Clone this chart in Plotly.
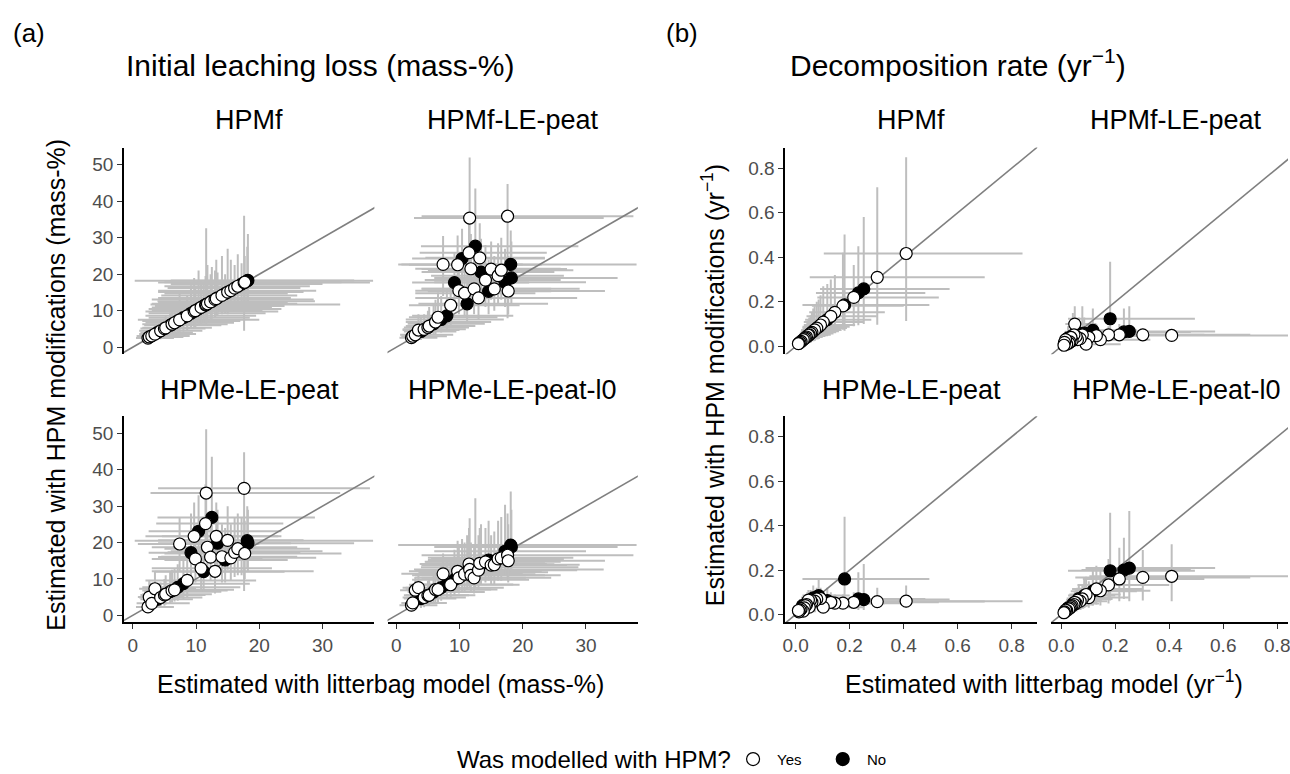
import plotly.graph_objects as go

# ---------------- (a) Initial leaching loss (mass-%) ----------------
# litterbag-model estimates (shared by the four panels)
leach_x = [2.4, 2.6, 3.0, 3.5, 3.9, 4.4, 5.0, 5.2, 5.9, 6.2, 6.6, 7.1, 7.4, 8.0, 8.6, 9.2, 9.7, 9.9, 10.4, 10.8,
           11.2, 11.5, 11.6, 11.8, 12.3, 12.5, 13.0, 13.2, 13.4, 14.1, 14.6, 15.0, 15.5, 16.1, 16.6, 17.2, 17.6, 17.7, 18.1, 18.2]
leach_x_lo = [0.5, 0.8, 0.6, 1.0, 1.2, 1.0, 1.2, 1.5, 1.8, 1.5, 2.0, 1.5, 0.8, 2.5, 2.0, 2.5, 2.0, 3.0, 2.5, 3.0,
              3.5, 3.7, 2.8, 3.0, 4.0, 3.9, 3.0, 4.6, 4.0, 4.5, 5.0, 4.0, 4.0, 5.5, 5.0, 6.0, 4.0, 5.0, 0.3, 6.0]
leach_x_hi = [6.5, 8.0, 9.0, 10.0, 9.5, 11.0, 11.5, 12.5, 14.0, 15.0, 16.0, 17.0, 20.0, 18.5, 19.5, 21.0, 23.0, 20.5, 23.5, 22.0,
              24.0, 23.8, 32.8, 26.0, 24.5, 28.8, 28.6, 23.5, 25.0, 26.0, 24.5, 27.0, 29.0, 26.5, 28.0, 30.0, 37.5, 33.0, 38.0, 35.0]
leach_modelled = ["Yes", "Yes", "Yes", "Yes", "No", "Yes", "Yes", "Yes", "No", "Yes", "Yes", "No", "Yes", "No", "Yes", "No",
                  "Yes", "Yes", "No", "Yes", "No", "Yes", "Yes", "Yes", "Yes", "No", "Yes", "Yes", "No", "Yes", "No", "Yes",
                  "Yes", "Yes", "Yes", "No", "Yes", "Yes", "No", "No"]

# HPMf
leach_f = [2.5, 2.8, 3.1, 3.6, 4.0, 4.5, 5.1, 5.3, 6.0, 6.3, 6.7, 7.2, 7.5, 8.1, 8.6, 9.3, 9.8, 10.0, 10.5, 10.9,
           11.3, 11.6, 11.7, 11.9, 12.4, 12.6, 13.1, 13.3, 13.5, 14.2, 14.7, 15.1, 15.5, 16.2, 16.7, 17.3, 17.7, 17.8, 18.2, 18.3]
leach_f_lo = [1.2, 1.0, 1.5, 1.8, 2.0, 2.2, 2.5, 2.6, 3.0, 3.2, 3.5, 3.8, 4.0, 4.2, 4.5, 5.0, 5.2, 5.5, 6.0, 6.2,
              6.5, 6.8, 6.0, 7.0, 7.5, 7.8, 8.0, 8.5, 8.6, 9.0, 9.2, 9.0, 10.0, 10.0, 10.5, 11.0, 4.5, 11.0, 11.5, 12.0]
leach_f_hi = [4.0, 4.5, 5.2, 6.0, 6.2, 7.0, 7.8, 8.5, 9.5, 10.0, 11.0, 12.0, 15.0, 12.5, 14.0, 17.0, 19.0, 16.0, 21.0, 18.0,
              17.5, 19.5, 32.6, 22.5, 20.0, 22.0, 21.0, 24.0, 20.5, 25.0, 20.0, 27.0, 24.0, 22.5, 25.5, 23.0, 36.0, 25.0, 27.5, 31.0]
# HPMf-LE-peat
leach_le = [2.6, 3.0, 3.4, 4.7, 4.3, 4.9, 5.4, 5.8, 6.4, 6.9, 8.2, 7.6, 22.7, 8.6, 11.5, 17.7, 22.6, 15.5, 24.3, 14.8,
            11.9, 25.9, 35.4, 21.5, 16.0, 27.7, 13.5, 24.5, 20.6, 18.4, 15.3, 21.4, 16.0, 19.6, 21.1, 17.8, 35.9, 15.4, 22.7, 19.0]
leach_le_lo = [1.0, 1.2, 1.5, 2.0, 2.0, 2.5, 2.8, 3.0, 3.5, 3.5, 4.5, 4.0, 14.0, 4.5, 6.0, 10.0, 14.0, 9.0, 15.0, 8.5,
               6.5, 17.0, 22.0, 13.0, 9.0, 19.0, 7.5, 16.0, 13.0, 11.0, 9.0, 13.0, 10.0, 12.0, 13.0, 11.0, 7.9, 9.0, 14.0, 12.0]
leach_le_hi = [5.5, 6.0, 7.0, 9.0, 8.0, 9.0, 10.0, 11.0, 12.0, 13.0, 15.0, 14.0, 30.5, 16.0, 18.0, 26.0, 30.6, 23.0, 32.5, 21.0,
               20.0, 36.0, 52.0, 31.0, 24.0, 43.5, 22.0, 34.0, 29.7, 28.0, 24.0, 29.0, 25.0, 28.5, 30.0, 27.0, 44.7, 25.0, 32.0, 29.0]
# HPMe-LE-peat
leach_e = [2.3, 5.0, 3.3, 7.3, 4.4, 4.9, 5.6, 5.8, 6.5, 6.8, 7.0, 7.7, 19.6, 8.7, 9.6, 17.2, 21.7, 15.5, 23.1, 12.9,
           12.0, 25.2, 33.6, 18.7, 16.0, 26.9, 12.1, 21.7, 19.8, 16.1, 15.2, 20.6, 15.8, 17.3, 18.3, 17.6, 34.9, 17.0, 20.5, 19.8]
leach_e_lo = [0.8, 2.0, 1.2, 3.0, 2.0, 2.2, 2.6, 3.0, 3.4, 3.5, 3.8, 4.0, 12.0, 4.5, 5.0, 10.0, 14.0, 9.0, 15.0, 7.0,
              6.5, 16.0, 20.0, 11.0, 9.5, 18.0, 6.0, 13.0, 12.0, 9.0, 9.0, 12.5, 9.5, 10.5, 11.0, 11.0, 6.7, 10.0, 13.0, 12.0]
leach_e_hi = [5.0, 9.5, 7.0, 12.0, 8.0, 9.0, 10.0, 11.0, 12.0, 12.5, 13.0, 14.0, 27.0, 16.0, 17.0, 28.0, 31.0, 24.0, 33.0, 21.0,
              20.0, 36.0, 51.1, 28.0, 25.0, 43.6, 21.0, 31.0, 29.0, 25.0, 24.0, 30.0, 25.0, 27.0, 28.0, 27.0, 44.8, 26.0, 30.0, 29.0]
# HPMe-LE-peat-l0
leach_l0 = [2.8, 3.4, 6.9, 7.6, 4.6, 4.9, 5.5, 5.5, 6.4, 7.1, 7.1, 7.6, 11.4, 8.5, 8.4, 9.8, 12.1, 10.3, 11.0, 11.3,
            11.8, 14.1, 12.6, 11.0, 10.3, 13.2, 12.4, 14.3, 14.0, 14.7, 15.2, 13.8, 13.9, 15.5, 15.8, 17.6, 16.5, 15.0, 19.3, 18.8]
leach_l0_lo = [1.0, 1.2, 3.5, 4.0, 2.0, 2.2, 2.6, 2.6, 3.2, 3.5, 3.6, 4.0, 6.0, 4.5, 4.5, 5.5, 6.5, 6.0, 6.5, 6.5,
               7.0, 8.0, 7.5, 6.5, 6.0, 7.5, 7.0, 8.5, 8.5, 9.0, 9.5, 8.5, 8.5, 9.5, 9.5, 11.0, 10.0, 9.0, 12.0, 12.0]
leach_l0_hi = [5.5, 6.5, 10.5, 11.5, 8.0, 8.5, 9.5, 10.0, 11.0, 12.0, 12.5, 13.5, 17.0, 15.0, 15.5, 18.0, 20.5, 19.0, 21.0, 20.0,
               22.0, 24.0, 26.7, 20.0, 19.5, 32.2, 22.0, 24.0, 25.0, 24.0, 26.0, 22.0, 23.0, 26.0, 27.0, 30.4, 28.0, 25.0, 34.0, 29.0]

# ---------------- (b) Decomposition rate (yr^-1) ----------------
decay_x = [0.409, 0.302, 0.252, 0.232, 0.215, 0.181, 0.175, 0.145, 0.130, 0.117, 0.102, 0.092, 0.085, 0.078, 0.070,
           0.065, 0.060, 0.055, 0.050, 0.047, 0.043, 0.040, 0.036, 0.032, 0.028, 0.025, 0.020, 0.016, 0.012, 0.010]
decay_x_lo = [0.104, 0.052, 0.090, 0.075, 0.080, 0.025, 0.060, 0.050, 0.040, 0.035, 0.030, 0.030, 0.025, 0.025, 0.020,
              0.020, 0.018, 0.015, 0.015, 0.012, 0.012, 0.010, 0.010, 0.008, 0.008, 0.007, 0.005, 0.004, 0.003, 0.002]
decay_x_hi = [0.840, 0.700, 0.570, 0.480, 0.530, 0.495, 0.400, 0.330, 0.300, 0.280, 0.250, 0.220, 0.200, 0.190, 0.170,
              0.160, 0.150, 0.140, 0.130, 0.120, 0.110, 0.100, 0.090, 0.085, 0.075, 0.070, 0.060, 0.050, 0.040, 0.035]
decay_modelled = ["Yes", "Yes", "No", "No", "Yes", "No", "Yes", "Yes", "Yes", "No", "Yes", "Yes", "No", "Yes", "Yes",
                  "No", "Yes", "Yes", "Yes", "Yes", "No", "Yes", "Yes", "Yes", "Yes", "No", "Yes", "Yes", "Yes", "Yes"]

decay_f = [0.417, 0.310, 0.258, 0.240, 0.220, 0.186, 0.182, 0.153, 0.135, 0.120, 0.109, 0.096, 0.088, 0.082, 0.074,
           0.068, 0.063, 0.058, 0.052, 0.050, 0.046, 0.042, 0.038, 0.035, 0.030, 0.027, 0.022, 0.018, 0.014, 0.012]
decay_f_lo = [0.114, 0.097, 0.100, 0.095, 0.090, 0.070, 0.075, 0.065, 0.055, 0.050, 0.045, 0.040, 0.035, 0.035, 0.030,
              0.028, 0.025, 0.022, 0.020, 0.020, 0.018, 0.015, 0.015, 0.012, 0.010, 0.010, 0.008, 0.006, 0.005, 0.004]
decay_f_hi = [0.849, 0.715, 0.581, 0.450, 0.365, 0.502, 0.420, 0.320, 0.300, 0.280, 0.270, 0.230, 0.210, 0.200, 0.180,
              0.170, 0.150, 0.140, 0.130, 0.120, 0.110, 0.100, 0.090, 0.085, 0.075, 0.070, 0.060, 0.050, 0.040, 0.035]

decay_le = [0.049, 0.052, 0.067, 0.065, 0.052, 0.124, 0.052, 0.030, 0.048, 0.072, 0.040, 0.010, 0.060, 0.052, 0.035,
            0.058, 0.030, 0.045, 0.100, 0.052, 0.050, 0.025, 0.040, 0.020, 0.015, 0.038, 0.010, 0.030, 0.018, 0.005]
decay_le_lo = [0.030, 0.030, 0.040, 0.040, 0.030, 0.040, 0.030, 0.010, 0.020, 0.030, 0.020, 0.000, 0.030, 0.020, 0.010,
               0.020, 0.010, 0.020, 0.040, 0.020, 0.020, 0.010, 0.015, 0.005, 0.005, 0.010, 0.003, 0.010, 0.005, 0.001]
decay_le_hi = [0.070, 0.080, 0.180, 0.170, 0.100, 0.380, 0.090, 0.070, 0.100, 0.170, 0.090, 0.050, 0.130, 0.180, 0.090,
               0.130, 0.080, 0.100, 0.180, 0.120, 0.150, 0.070, 0.100, 0.060, 0.050, 0.090, 0.040, 0.070, 0.050, 0.030]

decay_e = [0.060, 0.058, 0.067, 0.070, 0.055, 0.160, 0.051, 0.051, 0.055, 0.062, 0.033, 0.072, 0.085, 0.070, 0.060,
           0.075, 0.055, 0.065, 0.033, 0.065, 0.055, 0.045, 0.040, 0.030, 0.015, 0.040, 0.025, 0.020, 0.012, 0.018]
decay_e_lo = [0.030, 0.030, 0.020, 0.020, 0.030, 0.060, 0.030, 0.030, 0.030, 0.030, 0.020, 0.030, 0.040, 0.030, 0.030,
              0.030, 0.020, 0.030, 0.015, 0.030, 0.020, 0.020, 0.015, 0.010, 0.005, 0.015, 0.010, 0.008, 0.004, 0.006]
decay_e_hi = [0.130, 0.120, 0.227, 0.190, 0.100, 0.440, 0.090, 0.090, 0.100, 0.120, 0.070, 0.120, 0.160, 0.120, 0.110,
              0.130, 0.100, 0.110, 0.070, 0.110, 0.100, 0.080, 0.080, 0.060, 0.040, 0.080, 0.050, 0.040, 0.030, 0.040]

decay_l0 = [0.172, 0.167, 0.209, 0.200, 0.160, 0.197, 0.133, 0.107, 0.115, 0.105, 0.076, 0.090, 0.085, 0.070, 0.060,
            0.072, 0.065, 0.050, 0.055, 0.045, 0.048, 0.040, 0.035, 0.030, 0.025, 0.030, 0.018, 0.020, 0.012, 0.008]
decay_l0_lo = [0.060, 0.063, 0.060, 0.070, 0.060, 0.063, 0.050, 0.040, 0.045, 0.040, 0.030, 0.035, 0.030, 0.030, 0.025,
               0.030, 0.025, 0.020, 0.020, 0.018, 0.018, 0.015, 0.012, 0.010, 0.008, 0.010, 0.005, 0.006, 0.004, 0.002]
decay_l0_hi = [0.316, 0.290, 0.466, 0.346, 0.300, 0.458, 0.250, 0.200, 0.220, 0.200, 0.150, 0.170, 0.160, 0.130, 0.120,
               0.130, 0.120, 0.100, 0.100, 0.090, 0.090, 0.080, 0.070, 0.060, 0.050, 0.060, 0.040, 0.040, 0.030, 0.020]

# tick labels
leach_x_ticks = [0, 10, 20, 30]
leach_y_ticks = [0, 10, 20, 30, 40, 50]
decay_ticks = [0.0, 0.2, 0.4, 0.6, 0.8]
decay_tick_labels = ["0.0", "0.2", "0.4", "0.6", "0.8"]
legend_levels = ["Yes", "No"]

# ---------------- layout geometry (pixels) ----------------
W, H = 1290, 774
FONT = "Liberation Sans, Arial, Helvetica, sans-serif"
def px(v):
    return v / W
def py(v):
    return 1 - v / H

A_COLS = [(121.5, 372.8), (386.0, 637.3)]
B_COLS = [(785.3, 1038.4), (1051.9, 1290.0)]
ROWS = [(148.3, 356.0), (418.3, 625.5)]
A_XR = [-1.39, 38.2]
A_YR = [-1.91, 54.73]
B_XR = [-0.0387, 0.895]
B_XR_CLIP = [-0.0387, 0.8399]
B_YR = [-0.035, 0.893]
FILL = {"Yes": "white", "No": "black"}

fig = go.Figure()
layout = {}

def add_panel(i, col, row, xr, yr, xs, xlo, xhi, ys, ylo, yhi, flags, left, bottom,
              xt, xtt, yt, ytt):
    sx = "" if i == 1 else str(i)
    xa, ya = "x" + sx, "y" + sx
    # error bars (grey linerange)
    fig.add_trace(go.Scatter(
        x=xs, y=ys, xaxis=xa, yaxis=ya, mode="markers",
        marker=dict(size=2, opacity=0), showlegend=False, hoverinfo="skip",
        error_x=dict(type="data", symmetric=False,
                     array=[h - v for h, v in zip(xhi, xs)],
                     arrayminus=[v - l for l, v in zip(xlo, xs)],
                     width=0, thickness=2, color="#BEBEBE"),
        error_y=dict(type="data", symmetric=False,
                     array=[h - v for h, v in zip(yhi, ys)],
                     arrayminus=[v - l for l, v in zip(ylo, ys)],
                     width=0, thickness=2, color="#BEBEBE"),
    ))
    # 1:1 line
    lo = min(xr[0], yr[0]) - 1
    hi = max(xr[1], yr[1]) + 1
    fig.add_trace(go.Scatter(x=[lo, hi], y=[lo, hi], xaxis=xa, yaxis=ya, mode="lines",
                             line=dict(color="#7F7F7F", width=1.6), showlegend=False,
                             hoverinfo="skip"))
    # points
    for flag in ("No", "Yes"):
        px_ = [v for v, f in zip(xs, flags) if f == flag]
        py_ = [v for v, f in zip(ys, flags) if f == flag]
        fig.add_trace(go.Scatter(
            x=px_, y=py_, xaxis=xa, yaxis=ya, mode="markers", name=flag, showlegend=False,
            marker=dict(size=12, color=FILL[flag], line=dict(color="black", width=1.2)),
        ))
    c0, c1 = col
    r0, r1 = row
    axis_common = dict(showgrid=False, zeroline=False, linecolor="black", linewidth=1.6,
                       ticklen=5, tickwidth=1.4, tickcolor="#333333", ticklabeloverflow="allow",
                       tickfont=dict(size=19, color="#4D4D4D", family=FONT), fixedrange=True)
    layout["xaxis" + sx] = dict(domain=[px(c0), px(c1)], range=xr, anchor=ya,
                                showline=bottom, ticks="outside" if bottom else "",
                                showticklabels=bottom, tickvals=xt, ticktext=xtt,
                                **axis_common)
    layout["yaxis" + sx] = dict(domain=[py(r1), py(r0)], range=yr, anchor=xa,
                                showline=left, ticks="outside" if left else "",
                                showticklabels=left, tickvals=yt, ticktext=ytt,
                                **axis_common)

lxt = [str(v) for v in leach_x_ticks]
lyt = [str(v) for v in leach_y_ticks]
add_panel(1, A_COLS[0], ROWS[0], A_XR, A_YR, leach_x, leach_x_lo, leach_x_hi, leach_f, leach_f_lo, leach_f_hi,
          leach_modelled, True, False, leach_x_ticks, lxt, leach_y_ticks, lyt)
add_panel(2, A_COLS[1], ROWS[0], A_XR, A_YR, leach_x, leach_x_lo, leach_x_hi, leach_le, leach_le_lo, leach_le_hi,
          leach_modelled, False, False, leach_x_ticks, lxt, leach_y_ticks, lyt)
add_panel(3, A_COLS[0], ROWS[1], A_XR, A_YR, leach_x, leach_x_lo, leach_x_hi, leach_e, leach_e_lo, leach_e_hi,
          leach_modelled, True, True, leach_x_ticks, lxt, leach_y_ticks, lyt)
add_panel(4, A_COLS[1], ROWS[1], A_XR, A_YR, leach_x, leach_x_lo, leach_x_hi, leach_l0, leach_l0_lo, leach_l0_hi,
          leach_modelled, False, True, leach_x_ticks, lxt, leach_y_ticks, lyt)
add_panel(5, B_COLS[0], ROWS[0], B_XR, B_YR, decay_x, decay_x_lo, decay_x_hi, decay_f, decay_f_lo, decay_f_hi,
          decay_modelled, True, False, decay_ticks, decay_tick_labels, decay_ticks, decay_tick_labels)
add_panel(6, B_COLS[1], ROWS[0], B_XR_CLIP, B_YR, decay_x, decay_x_lo, decay_x_hi, decay_le, decay_le_lo, decay_le_hi,
          decay_modelled, False, False, decay_ticks, decay_tick_labels, decay_ticks, decay_tick_labels)
add_panel(7, B_COLS[0], ROWS[1], B_XR, B_YR, decay_x, decay_x_lo, decay_x_hi, decay_e, decay_e_lo, decay_e_hi,
          decay_modelled, True, True, decay_ticks, decay_tick_labels, decay_ticks, decay_tick_labels)
add_panel(8, B_COLS[1], ROWS[1], B_XR_CLIP, B_YR, decay_x, decay_x_lo, decay_x_hi, decay_l0, decay_l0_lo, decay_l0_hi,
          decay_modelled, False, True, decay_ticks, decay_tick_labels, decay_ticks, decay_tick_labels)

annotations = []
def text(t, x, y, size, xanchor="center", angle=0, color="black"):
    annotations.append(dict(text=t, x=px(x), y=py(y), xref="paper", yref="paper", showarrow=False,
                            xanchor=xanchor, yanchor="middle", textangle=angle,
                            font=dict(family=FONT, size=size, color=color)))

text("(a)", 8, 33, 26, "left")
text("(b)", 664, 33, 26, "left")
text("Initial leaching loss (mass-%)", 121, 66, 30, "left")
text("Decomposition rate (yr<sup>−1</sup>)", 788, 63, 30, "left")
strip_a = ["HPMf", "HPMf-LE-peat", "HPMe-LE-peat", "HPMe-LE-peat-l0"]
strip_y = [121, 121, 392, 392]
centers_a = [sum(A_COLS[0]) / 2, sum(A_COLS[1]) / 2, sum(A_COLS[0]) / 2, sum(A_COLS[1]) / 2]
centers_b = [sum(B_COLS[0]) / 2, 1178.0, sum(B_COLS[0]) / 2, 1178.0]
for name, cx, cy in zip(strip_a, centers_a, strip_y):
    text(name, cx, cy, 27)
for name, cx, cy in zip(strip_a, centers_b, strip_y):
    text(name, cx, cy, 27)
text("Estimated with litterbag model (mass-%)", (A_COLS[0][0] + A_COLS[1][1]) / 2, 688, 25)
text("Estimated with litterbag model (yr<sup>−1</sup>)", 1045, 686, 25)
text("Estimated with HPM modifications (mass-%)", 53, (ROWS[0][0] + ROWS[1][1]) / 2, 25, angle=-90)
text("Estimated with HPM modifications (yr<sup>−1</sup>)", 713, (ROWS[0][0] + ROWS[1][1]) / 2, 25, angle=-90)

# legend (drawn as key circles + real text)
LEG_Y = 763
text("Was modelled with HPM?", 733, LEG_Y, 24, "right")
shapes = []
for lvl, cx, tx in zip(legend_levels, [753, 843], [775, 865]):
    shapes.append(dict(type="circle", xref="paper", yref="paper", xsizemode="pixel", ysizemode="pixel",
                       xanchor=px(cx), yanchor=py(LEG_Y), x0=-6.5, x1=6.5, y0=-6.5, y1=6.5,
                       fillcolor=FILL[lvl], line=dict(color="black", width=1.2)))
    text(lvl, tx, LEG_Y, 15, "left")

fig.update_layout(
    width=W, height=H, autosize=False,
    margin=dict(l=0, r=0, t=0, b=0, pad=0),
    paper_bgcolor="white", plot_bgcolor="white",
    font=dict(family=FONT, color="black"),
    showlegend=False,
    annotations=annotations,
    shapes=shapes,
    **layout,
)

fig.write_html("out.html")
